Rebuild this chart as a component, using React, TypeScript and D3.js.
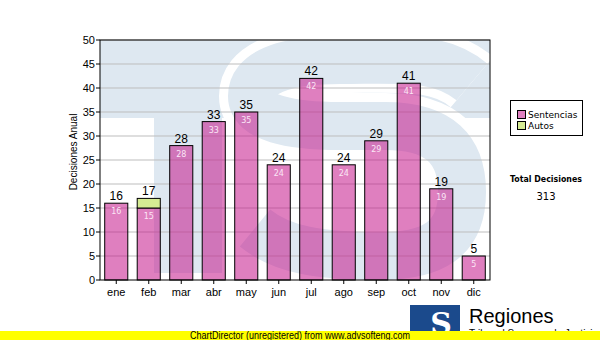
import React from 'react'
import * as d3 from 'd3'

// Chart data
const months = ['ene', 'feb', 'mar', 'abr', 'may', 'jun', 'jul', 'ago', 'sep', 'oct', 'nov', 'dic']
const sentencias = [16, 15, 28, 33, 35, 24, 42, 24, 29, 41, 19, 5]
const autos = [0, 2, 0, 0, 0, 0, 0, 0, 0, 0, 0, 0]
const yTicks = [0, 5, 10, 15, 20, 25, 30, 35, 40, 45, 50]
const seriesNames = ['Sentencias', 'Autos']

const W = 600
const H = 340
const margin = { left: 100, right: 110, top: 40, bottom: 60 }
const ARIAL = 'Liberation Sans, Arial, sans-serif'
const VERDANA = 'DejaVu Sans, Verdana, sans-serif'

const PINK = '#c5168b'
const GREEN = '#d5eb93'
const WATER = '#dee8f1'

function App() {
  const x0 = margin.left
  const x1 = W - margin.right
  const y0 = H - margin.bottom
  const y1 = margin.top

  const x = d3.scaleBand<string>().domain(months).range([x0, x1]).paddingInner(0.29).paddingOuter(0.145)
  const y = d3.scaleLinear().domain([0, 50]).range([y0, y1])

  const total = d3.sum(sentencias) + d3.sum(autos)

  // watermark "TS" logo behind the bars
  const sPath =
    'M 472,82 C 440,55 400,60 340,60 C 280,60 252,74 252,96 C 252,118 290,126 340,126 L 385,126 C 440,126 462,150 462,192 C 462,240 432,256 380,256 C 320,256 282,250 255,228'

  return (
    <svg width={W} height={H} style={{ position: 'absolute', left: 0, top: 0, background: '#fff' }}>
      <defs>
        <clipPath id="plotClip">
          <rect x={x0} y={y1} width={x1 - x0} height={y0 - y1} />
        </clipPath>
      </defs>

      {/* watermark */}
      <g clipPath="url(#plotClip)">
        <rect x={x0} y={y1} width={x1 - x0} height={78} fill={WATER} />
        <rect x={154} y={y1} width={68} height={233} fill={WATER} />
        <path d={sPath} fill="none" stroke="#fff" strokeWidth={66} />
        <path d={sPath} fill="none" stroke={WATER} strokeWidth={48} />
      </g>

      {/* grid lines */}
      {yTicks.slice(1).map((t) => (
        <line key={'g' + t} x1={x0} x2={x1} y1={y(t)} y2={y(t)} stroke="#bdbdbd" strokeWidth={1} />
      ))}

      {/* bars */}
      {months.map((m, i) => {
        const bx = x(m) as number
        const bw = x.bandwidth()
        const s = sentencias[i]
        const a = autos[i]
        return (
          <g key={m}>
            <rect x={bx} y={y(s)} width={bw} height={y(0) - y(s)} fill={PINK} fillOpacity={0.55} stroke="#000" strokeWidth={1} />
            {a > 0 && (
              <rect x={bx} y={y(s + a)} width={bw} height={y(s) - y(s + a)} fill={GREEN} stroke="#000" strokeWidth={1} />
            )}
            <text x={bx + bw / 2} y={y(s) + 11} textAnchor="middle" fontFamily={VERDANA} fontSize={8} fill="#fbe6f6">
              {s}
            </text>
            <text x={bx + bw / 2} y={y(s + a) - 3} textAnchor="middle" fontFamily={ARIAL} fontSize={12} fill="#000">
              {s + a}
            </text>
          </g>
        )
      })}

      {/* plot frame */}
      <rect x={x0} y={y1} width={x1 - x0} height={y0 - y1} fill="none" stroke="#000" strokeWidth={1} />

      {/* y axis */}
      {yTicks.map((t) => (
        <g key={'y' + t}>
          <line x1={x0 - 4} x2={x0} y1={y(t)} y2={y(t)} stroke="#000" />
          <text x={x0 - 5} y={y(t) + 4} textAnchor="end" fontFamily={ARIAL} fontSize={11} fill="#000">
            {t}
          </text>
        </g>
      ))}
      <text
        transform={`translate(77,152) rotate(-90)`}
        textAnchor="middle"
        fontFamily={ARIAL}
        fontSize={10}
        fill="#000"
      >
        Decisiones Anual
      </text>

      {/* x axis */}
      {months.map((m) => {
        const cx = (x(m) as number) + x.bandwidth() / 2
        return (
          <g key={'x' + m}>
            <line x1={cx} x2={cx} y1={y0} y2={y0 + 4} stroke="#000" />
            <text x={cx} y={y0 + 16} textAnchor="middle" fontFamily={ARIAL} fontSize={11} fill="#000">
              {m}
            </text>
          </g>
        )
      })}

      {/* legend */}
      <rect x={510.5} y={100.5} width={72} height={35} fill="#fff" stroke="#000" />
      {seriesNames.map((n, i) => (
        <g key={n}>
          <rect x={517.5} y={110.5 + i * 11} width={8} height={8} fill={i === 0 ? '#df80c0' : GREEN} stroke="#000" />
          <text x={528} y={118 + i * 11} fontFamily={VERDANA} fontSize={9} fill="#000">
            {n}
          </text>
        </g>
      ))}

      {/* total */}
      <text x={546} y={182} textAnchor="middle" fontFamily={VERDANA} fontWeight="bold" fontSize={8.5} fill="#000" textLength={72} lengthAdjust="spacingAndGlyphs">
        Total Decisiones
      </text>
      <text x={546} y={200} textAnchor="middle" fontFamily={VERDANA} fontSize={10} fill="#000">
        {total}
      </text>

      {/* logo */}
      <rect x={410} y={305} width={50} height={28} fill="#1b4a8c" />
      <text x={441} y={334} textAnchor="middle" fontFamily="DejaVu Serif, serif" fontWeight="bold" fontSize={30} fill="#fff">
        S
      </text>
      <rect x={410} y={305} width={50} height={6} fill="#1b4a8c" />
      <text x={469} y={323} fontFamily={ARIAL} fontSize={20} fill="#000">
        Regiones
      </text>
      <text x={469} y={337} fontFamily={ARIAL} fontSize={10} fill="#000">
        Tribunal Supremo de Justicia
      </text>

      {/* footer */}
      <rect x={0} y={331} width={W} height={9} fill="#ffff00" />
      <text x={300} y={339} textAnchor="middle" fontFamily={ARIAL} fontSize={10} fill="#000" textLength={220} lengthAdjust="spacingAndGlyphs">
        ChartDirector (unregistered) from www.advsofteng.com
      </text>
    </svg>
  )
}

export default App
